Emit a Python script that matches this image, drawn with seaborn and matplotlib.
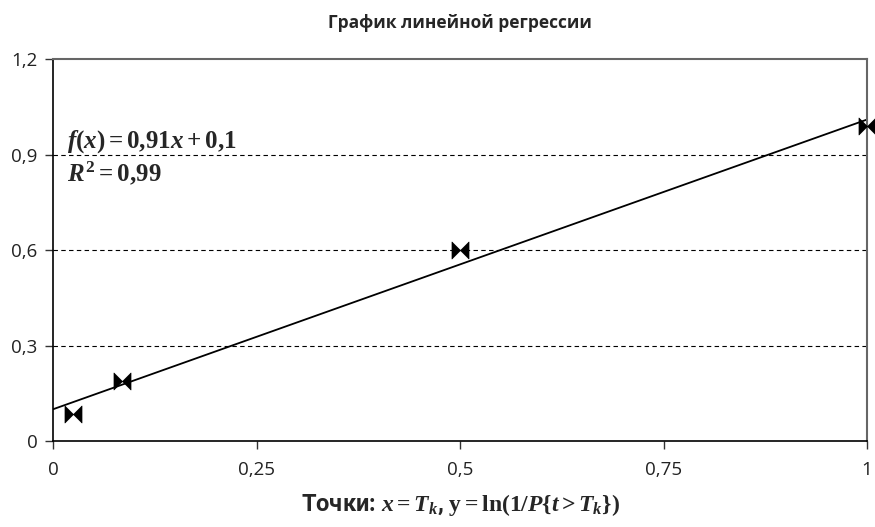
import numpy as np
import matplotlib
matplotlib.use("Agg")
import matplotlib.pyplot as plt
import seaborn as sns
from matplotlib.path import Path

# data
pts_x = [0.025, 0.085, 0.5, 1.0]
pts_y = [0.085, 0.19, 0.60, 0.99]
slope, intercept = 0.91, 0.1
line_x = [0.0, 1.0]
line_y = [intercept + slope * v for v in line_x]

x_ticks = [0, 0.25, 0.5, 0.75, 1]
x_labels = ["0", "0,25", "0,5", "0,75", "1"]
y_ticks = [0, 0.3, 0.6, 0.9, 1.2]
y_labels = ["0", "0,3", "0,6", "0,9", "1,2"]

sns.set_style("white")
plt.rcParams["font.family"] = ["Open Sans", "DejaVu Sans"]
plt.rcParams["mathtext.fontset"] = "custom"
plt.rcParams["mathtext.rm"] = "Liberation Serif:bold"
plt.rcParams["mathtext.it"] = "Liberation Serif:bold:italic"
plt.rcParams["mathtext.bf"] = "Liberation Serif:bold"

fig, ax = plt.subplots(figsize=(8.75, 5.27), dpi=100)
fig.subplots_adjust(left=0.0606, right=0.991, bottom=0.163, top=0.888)

# bowtie marker
bowtie = Path([(-1, -1), (-1, 1), (1, -1), (1, 1), (-1, -1)],
              [Path.MOVETO, Path.LINETO, Path.LINETO, Path.LINETO, Path.CLOSEPOLY])

for yv in [0.3, 0.6, 0.9]:
    ax.axhline(yv, color="black", linestyle=(0, (4, 3)), linewidth=0.8, zorder=1)

sns.lineplot(x=line_x, y=line_y, ax=ax, color="black", linewidth=1.3, zorder=2)
sns.scatterplot(x=pts_x, y=pts_y, ax=ax, marker=bowtie, s=150, color="black",
                edgecolor="black", linewidth=0.5, zorder=3, clip_on=False)

ax.set_xlim(0, 1)
ax.set_ylim(0, 1.2)
ax.set_xticks(x_ticks)
ax.set_xticklabels(x_labels, fontsize=13.5)
ax.set_yticks(y_ticks)
ax.set_yticklabels(y_labels, fontsize=13.5)
ax.tick_params(axis="both", direction="out", length=6, width=1, color="#333333",
               labelcolor="#222222", bottom=True, left=True)
ax.tick_params(axis="x", pad=8)
ax.tick_params(axis="y", pad=5)

for side in ["left", "bottom"]:
    ax.spines[side].set_color("black")
    ax.spines[side].set_linewidth(1.2)
for side in ["top", "right"]:
    ax.spines[side].set_color("#666666")
    ax.spines[side].set_linewidth(1.5)

ax.text(0.017, 0.899, r"$f(x) = 0{,}91x + 0{,}1$", fontsize=18, va="bottom", ha="left")
ax.text(0.017, 0.883, r"$R^2 = 0{,}99$", fontsize=18, va="top", ha="left")

ax.set_title("График линейной регрессии", fontsize=12.5, fontweight="bold", pad=22)
ax.set_xlabel(r"Точки: $x = T_k$, $\mathrm{y = ln(1/}P\{t > T_k\})$",
              fontsize=17, fontweight="bold",
              family=["Roboto", "DejaVu Sans"], labelpad=10)

plt.savefig("out.png", dpi=100)
